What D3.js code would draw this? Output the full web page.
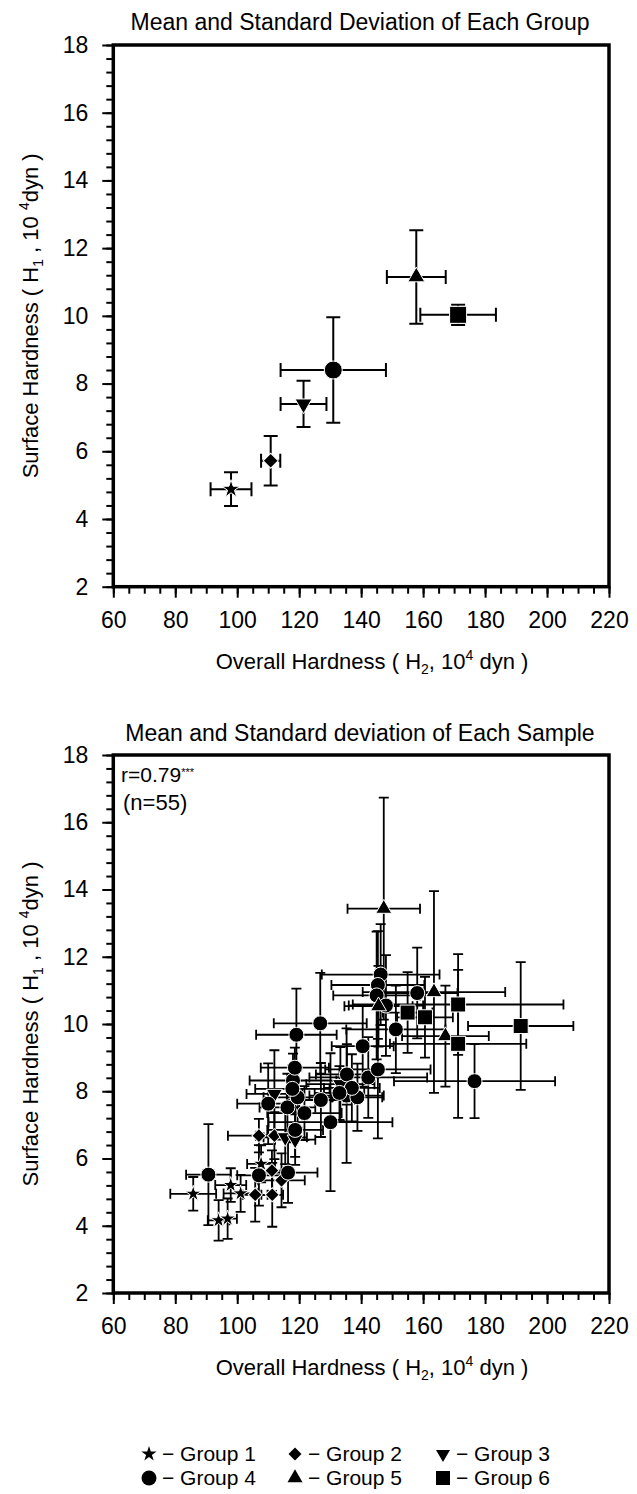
<!DOCTYPE html>
<html>
<head>
<meta charset="utf-8">
<script src="https://cdn.jsdelivr.net/npm/d3@7"></script>
<style>
  body { margin: 0; background: #fff; }
  svg text { font-family: "Liberation Sans", Arial, sans-serif; fill: #000; }
</style>
</head>
<body>
<script>
// axis ticks
const xTicks = [60, 80, 100, 120, 140, 160, 180, 200, 220]
const yTicks = [2, 4, 6, 8, 10, 12, 14, 16, 18]
const xMinorStep = 5
const yMinorStep = 0.4

// groups
const groupNames = ['Group 1', 'Group 2', 'Group 3', 'Group 4', 'Group 5', 'Group 6']
const groupShapes = ['star', 'diamond', 'down', 'circle', 'up', 'square']

// top panel: mean and SD of each group
const groupX = [98.0, 110.8, 121.4, 131.0, 157.8, 171.3]
const groupSdX = [6.6, 3.1, 7.4, 17.0, 9.5, 12.2]
const groupY = [4.88, 5.72, 7.40, 8.40, 11.15, 10.03]
const groupSdY = [0.5, 0.73, 0.68, 1.56, 1.38, 0.3]

// bottom panel: mean and SD of each sample (n=55), group index 0..5
const sampleGroup = [
  0, 0, 0, 0, 0, 0,
  1, 1, 1, 1, 1, 1,
  2, 2, 2, 2,
  3, 3, 3, 3, 3, 3, 3, 3, 3, 3, 3, 3, 3, 3, 3,
  3, 3, 3, 3, 3, 3, 3, 3, 3, 3, 3, 3, 3, 3, 3,
  4, 4, 4, 4,
  5, 5, 5, 5, 5
]
const sampleX = [
  85.8, 94.0, 96.9, 97.9, 101.1, 107.7,
  105.8, 111.3, 114.3, 111.2, 107.0, 112.0,
  115.5, 118.7, 112.0, 133.3,
  90.7, 107.0, 116.4, 118.7, 110.0, 116.2, 119.5, 121.7, 118.0, 118.6, 117.8, 119.1, 126.8, 127.0, 130.1,
  135.4, 135.3, 138.8, 140.5, 142.3, 145.4, 151.2, 176.6, 146.3, 145.4, 145.0, 148.0, 158.1, 137.0, 133.0,
  147.3, 163.5, 145.6, 167.2,
  155.0, 160.6, 171.3, 171.3, 191.5
]
const sampleSdX = [
  7.4, 3.5, 3.0, 5.0, 5.5, 4.5,
  4.0, 3.5, 7.5, 4.5, 10.0, 6.0,
  7.0, 6.5, 9.0, 11.0,
  7.2, 7.0, 9.5, 9.0, 10.0, 9.0, 11.0, 12.0, 14.0, 11.0, 12.0, 13.0, 15.0, 11.0, 20.0,
  10.0, 12.0, 8.0, 10.0, 19.0, 17.0, 16.0, 26.0, 19.0, 15.0, 14.0, 12.0, 13.0, 9.0, 8.0,
  11.7, 23.0, 11.0, 14.0,
  8.0, 9.0, 34.0, 22.0, 17.0
]
const sampleY = [
  4.95, 4.16, 4.21, 5.21, 4.96, 5.84,
  4.92, 4.92, 5.35, 5.64, 6.68, 6.68,
  6.63, 6.56, 7.92, 8.21,
  5.52, 5.50, 5.58, 6.85, 7.63, 7.52, 7.82, 7.35, 8.32, 8.70, 8.07, 9.68, 10.02, 7.74, 7.08,
  8.50, 7.87, 7.82, 9.34, 8.41, 8.65, 9.84, 8.30, 11.47, 11.16, 10.85, 10.55, 10.92, 8.10, 7.95,
  13.43, 10.95, 10.53, 9.64,
  10.34, 10.20, 10.58, 9.41, 9.94
]
const sampleSdY = [
  0.5, 0.6, 0.6, 0.5, 0.55, 0.55,
  0.8, 0.95, 0.8, 0.6, 0.5, 0.7,
  0.8, 0.75, 1.3, 1.1,
  1.5, 0.9, 0.9, 0.8, 1.2, 1.0, 0.9, 0.8, 0.8, 0.6, 0.7, 1.37, 1.5, 1.1, 2.05,
  0.9, 2.0, 1.0, 1.2, 1.2, 2.05, 1.3, 1.1, 1.5, 1.6, 1.9, 1.5, 1.35, 1.0, 0.8,
  3.3, 3.0, 1.2, 1.5,
  1.2, 1.2, 1.5, 2.2, 1.9
]

const W = 637
const H = 1494
const FONT = '"Liberation Sans", Arial, sans-serif'

const svg = d3.select('body').append('svg')
  .attr('width', W)
  .attr('height', H)

svg.append('rect').attr('width', W).attr('height', H).attr('fill', '#fff')

const plotLeft = 113.3
const plotRight = 609
const xScale = d3.scaleLinear().domain([60, 220]).range([plotLeft, plotRight])

function minorValues(lo, hi, step) {
  const out = []
  for (let i = 0; lo + i * step <= hi + 1e-9; i++) out.push(+(lo + i * step).toFixed(4))
  return out
}

// marker path, s = nominal size in px
function marker(shape, s) {
  if (shape === 'circle') return { d: d3.symbol(d3.symbolCircle, Math.PI * s * s / 4)(), rot: 0 }
  if (shape === 'square') return { d: d3.symbol(d3.symbolSquare, s * s)(), rot: 0 }
  if (shape === 'diamond') return { d: d3.symbol(d3.symbolSquare, s * s / 2)(), rot: 45 }
  if (shape === 'up') return { d: d3.symbol(d3.symbolTriangle, s * s * Math.sqrt(3) / 4)(), rot: 0 }
  if (shape === 'down') return { d: d3.symbol(d3.symbolTriangle, s * s * Math.sqrt(3) / 4)(), rot: 180 }
  // star, outer radius s/2
  return { d: d3.symbol(d3.symbolStar, (s * s / 4) / 0.8908130915292852)(), rot: 0 }
}

function richText(sel, parts, size) {
  parts.forEach(([txt, kind], i) => {
    const prev = i > 0 ? parts[i - 1][1] : null
    let dy = 0
    if (prev === 'sub') dy -= 5
    if (prev === 'sup') dy += 9
    if (kind === 'sub') dy += 5
    if (kind === 'sup') dy -= 9
    sel.append('tspan')
      .attr('font-size', kind ? 14 : size)
      .attr('dy', dy)
      .text(txt)
  })
}

const xLabelParts = [['Overall Hardness ( H', null], ['2', 'sub'], [', 10', null], ['4', 'sup'], [' dyn )', null]]
const yLabelParts = [['Surface Hardness ( H', null], ['1', 'sub'], [' , 10 ', null], ['4', 'sup'], ['dyn )', null]]

function drawPanel(p) {
  const yScale = d3.scaleLinear().domain([2, 18]).range([p.bottom, p.top])
  const g = svg.append('g')

  // y axis
  g.append('g').attr('transform', `translate(${plotLeft},0)`)
    .call(d3.axisLeft(yScale).tickValues(minorValues(2, 18, yMinorStep)).tickSize(7).tickFormat(''))
  g.append('g').attr('transform', `translate(${plotLeft},0)`)
    .call(d3.axisLeft(yScale).tickValues(yTicks).tickSize(11).tickPadding(14))

  // x axis
  g.append('g').attr('transform', `translate(0,${p.bottom})`)
    .call(d3.axisBottom(xScale).tickValues(minorValues(60, 220, xMinorStep)).tickSize(7).tickFormat(''))
  g.append('g').attr('transform', `translate(0,${p.bottom})`)
    .call(d3.axisBottom(xScale).tickValues(xTicks).tickSize(11).tickPadding(14))

  g.selectAll('.domain').remove()
  g.selectAll('.tick line').attr('stroke', '#000').attr('stroke-width', 2)
  g.selectAll('.tick text')
    .attr('font-family', FONT)
    .attr('font-size', 23)
    .attr('fill', '#000')

  // frame
  g.append('rect')
    .attr('x', plotLeft)
    .attr('y', p.top)
    .attr('width', plotRight - plotLeft)
    .attr('height', p.bottom - p.top)
    .attr('fill', 'none')
    .attr('stroke', '#000')
    .attr('stroke-width', 3.5)

  const pts = p.xs.map((v, i) => ({
    x: v, sx: p.sdx[i], y: p.ys[i], sy: p.sdy[i], shape: groupShapes[p.grp[i]]
  }))

  // error bars
  const cap = p.cap
  g.append('g').selectAll('path')
    .data(pts)
    .enter()
    .append('path')
    .attr('fill', 'none')
    .attr('stroke', '#000')
    .attr('stroke-width', p.lw)
    .attr('d', d => {
      const cx = xScale(d.x), cy = yScale(d.y)
      const x0 = xScale(d.x - d.sx), x1 = xScale(d.x + d.sx)
      const y0 = yScale(d.y - d.sy), y1 = yScale(d.y + d.sy)
      return `M${cx},${y0}V${y1}M${cx - cap},${y0}H${cx + cap}M${cx - cap},${y1}H${cx + cap}` +
        `M${x0},${cy}H${x1}M${x0},${cy - cap}V${cy + cap}M${x1},${cy - cap}V${cy + cap}`
    })

  // markers
  g.append('g').selectAll('path')
    .data(pts)
    .enter()
    .append('path')
    .each(function (d) {
      const m = marker(d.shape, p.size[d.shape])
      d3.select(this)
        .attr('d', m.d)
        .attr('transform', `translate(${xScale(d.x)},${yScale(d.y)}) rotate(${m.rot})`)
    })
    .attr('fill', '#000')
    .attr('stroke', '#fff')
    .attr('stroke-width', 1)

  // title
  svg.append('text')
    .attr('x', 360)
    .attr('y', p.titleY)
    .attr('text-anchor', 'middle')
    .attr('font-size', 23)
    .text(p.title)

  // axis titles
  const xl = svg.append('text')
    .attr('x', 372)
    .attr('y', p.bottom + 82)
    .attr('text-anchor', 'middle')
  richText(xl, xLabelParts, 22)

  const yl = svg.append('text')
    .attr('transform', `translate(38,${(p.top + p.bottom) / 2}) rotate(-90)`)
    .attr('text-anchor', 'middle')
  richText(yl, yLabelParts, 22)

  return yScale
}

const sizesTop = { circle: 18, square: 17, diamond: 15, up: 17, down: 17, star: 19 }
const sizesBottom = { circle: 15, square: 15, diamond: 14, up: 16, down: 16, star: 17 }

drawPanel({
  top: 45, bottom: 586.7, titleY: 30,
  title: 'Mean and Standard Deviation of Each Group',
  xs: groupX, sdx: groupSdX, ys: groupY, sdy: groupSdY,
  grp: [0, 1, 2, 3, 4, 5],
  size: sizesTop, cap: 7, lw: 2
})

drawPanel({
  top: 755, bottom: 1293, titleY: 741,
  title: 'Mean and Standard deviation of Each Sample',
  xs: sampleX, sdx: sampleSdX, ys: sampleY, sdy: sampleSdY,
  grp: sampleGroup,
  size: sizesBottom, cap: 5, lw: 1.8
})

// r and n annotation
const rt = svg.append('text').attr('x', 121).attr('y', 782).attr('font-size', 21)
rt.append('tspan').text('r=0.79')
rt.append('tspan').attr('font-size', 11).attr('dy', -6).text('***')
svg.append('text').attr('x', 123).attr('y', 810).attr('font-size', 22).text('(n=55)')

// legend
const legendCols = [149, 295, 443]
const legendRows = [1454, 1478]
const legendSizes = { circle: 15, square: 14, diamond: 13, up: 15, down: 14, star: 16 }
const lg = svg.append('g')
groupNames.forEach((name, i) => {
  const cx = legendCols[i % 3]
  const cy = legendRows[Math.floor(i / 3)]
  const m = marker(groupShapes[i], legendSizes[groupShapes[i]])
  lg.append('path')
    .attr('d', m.d)
    .attr('transform', `translate(${cx},${cy}) rotate(${m.rot})`)
    .attr('fill', '#000')
  lg.append('text')
    .attr('x', cx + 13)
    .attr('y', cy + 7)
    .attr('font-size', 21)
    .text('\u2212 ' + name)
})
</script>
</body>
</html>
